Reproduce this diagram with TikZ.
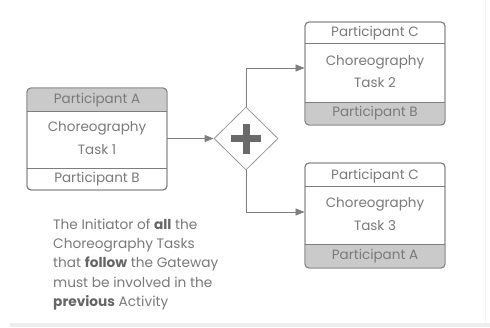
\documentclass[tikz,border=0pt]{standalone}
\usepackage{fontspec}
\setmainfont{Poppins}
\usetikzlibrary{arrows.meta,shapes.geometric}
\definecolor{linegray}{HTML}{7E7E7E}
\definecolor{bandgray}{HTML}{CACACA}
\definecolor{textgray}{HTML}{7A7A7A}
\definecolor{boldgray}{HTML}{666666}
\definecolor{plusgray}{HTML}{6A6A6A}
\tikzset{
  taskbox/.style={draw=linegray, line width=0.9pt, rounded corners=4pt, minimum width=140pt, inner sep=0pt},
  band/.style={fill=bandgray},
  lbl/.style={text=textgray, font=\fontsize{13.5}{15}\selectfont, inner sep=0pt},
  flow/.style={draw=linegray, line width=0.8pt, -{Triangle[length=9pt,width=7pt]}},
  gate/.style={diamond, draw=linegray!80, line width=0.8pt, minimum width=64pt, minimum height=63pt, inner sep=0pt, fill=white},
}
\begin{document}
\begin{tikzpicture}[x=1pt,y=-1pt]
\fill[white] (0,0) rectangle (490,327);
\useasboundingbox (0,0) rectangle (490,327);
% faint page edges
\fill[gray!13] (10,322.5) rectangle (490,327);
\draw[gray!10, line width=0.8pt] (485,0) -- (485,322);

% Task 1
\node[taskbox, minimum height=102pt] (t1) at (97,139) {};
\begin{scope}
  \clip[rounded corners=4pt] (t1.north west) rectangle (t1.south east);
  \fill[band] (t1.north west) rectangle ([yshift=-24pt]t1.north east);
\end{scope}
\node[taskbox, minimum height=102pt] at (t1) {};
\draw[draw=linegray, line width=0.8pt] ([yshift=-24pt]t1.north west) -- ([yshift=-24pt]t1.north east);
\draw[draw=linegray, line width=0.8pt] ([yshift=22pt]t1.south west) -- ([yshift=22pt]t1.south east);
\node[lbl] (t1a) at (97,100) {Participant A};
\node[lbl] (t1c) at (97,128) {Choreography};
\node[lbl] (t1t) at (97,150) {Task 1};
\node[lbl] (t1b) at (97,179) {Participant B};

% Task 2
\node[taskbox, minimum height=103pt] (t2) at (375,73.5) {};
\begin{scope}
  \clip[rounded corners=4pt] (t2.north west) rectangle (t2.south east);
  \fill[band] ([yshift=23pt]t2.south west) rectangle (t2.south east);
\end{scope}
\node[taskbox, minimum height=103pt] at (t2) {};
\draw[draw=linegray, line width=0.8pt] ([yshift=-22pt]t2.north west) -- ([yshift=-22pt]t2.north east);
\draw[draw=linegray, line width=0.8pt] ([yshift=23pt]t2.south west) -- ([yshift=23pt]t2.south east);
\node[lbl] (t2c) at (375,33) {Participant C};
\node[lbl] (t2h) at (375,62) {Choreography};
\node[lbl] (t2t) at (375,83) {Task 2};
\node[lbl] (t2b) at (375,113) {Participant B};

% Task 3
\node[taskbox, minimum height=105pt] (t3) at (375,215.5) {};
\begin{scope}
  \clip[rounded corners=4pt] (t3.north west) rectangle (t3.south east);
  \fill[band] ([yshift=24pt]t3.south west) rectangle (t3.south east);
\end{scope}
\node[taskbox, minimum height=105pt] at (t3) {};
\draw[draw=linegray, line width=0.8pt] ([yshift=-24pt]t3.north west) -- ([yshift=-24pt]t3.north east);
\draw[draw=linegray, line width=0.8pt] ([yshift=24pt]t3.south west) -- ([yshift=24pt]t3.south east);
\node[lbl] (t3c) at (375,176) {Participant C};
\node[lbl] (t3h) at (375,204) {Choreography};
\node[lbl] (t3t) at (375,226) {Task 3};
\node[lbl] (t3a) at (375,256) {Participant A};

% Gateway
\node[gate] (g) at (246,138.5) {};
\draw[plusgray, line width=7pt] ([xshift=-15pt]g.center) -- ([xshift=15pt]g.center);
\draw[plusgray, line width=7pt] ([yshift=-15pt]g.center) -- ([yshift=15pt]g.center);

% Flows
\draw[flow] (t1.east |- g.west) -- (g.west);
\draw[flow] (g.north) |- (t2.west |- 0,68);
\draw[flow] (g.south) |- (t3.west |- 0,212);

% Note
\node[anchor=north west, align=left, inner sep=0pt, text=textgray,
      font=\fontsize{13.7}{19.4}\selectfont] (note) at (53,218.5)
 {The Initiator of {\color{boldgray}\bfseries all} the\\
  Choreography Tasks\\
  that {\color{boldgray}\bfseries follow} the Gateway\\
  must be involved in the\\
  {\color{boldgray}\bfseries previous} Activity};
\end{tikzpicture}
\end{document}
